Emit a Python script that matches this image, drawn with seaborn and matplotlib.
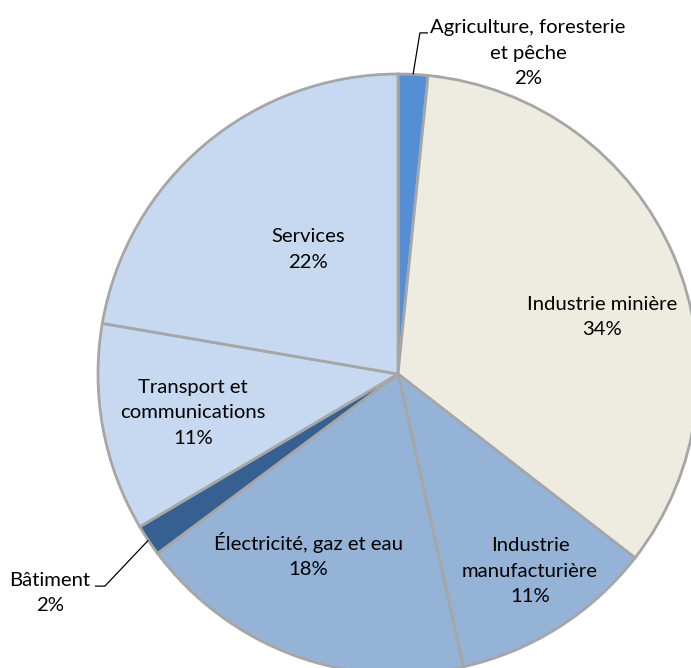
import numpy as np
import matplotlib
matplotlib.use("Agg")
import matplotlib.pyplot as plt
import seaborn as sns

# Sector shares of GDP (percent), clockwise from 12 o'clock
sectors = [
    "Agriculture, foresterie\net pêche",
    "Industrie minière",
    "Industrie\nmanufacturière",
    "Électricité, gaz et eau",
    "Bâtiment",
    "Transport et\ncommunications",
    "Services",
]
shares = [1.6, 33.9, 11.0, 18.3, 1.7, 11.2, 22.3]
colors = ["#558ED5", "#EEECE1", "#95B3D7", "#95B3D7", "#376092", "#C6D9F1", "#C6D9F1"]

sns.set_theme(style="white")
plt.rcParams["font.family"] = ["Lato", "DejaVu Sans"]

W, H, DPI = 691, 668, 100
R_PX = 300.0
CX, CY = 398.0, 374.0  # pie centre in pixels from the top-left corner

fig = plt.figure(figsize=(W / DPI, H / DPI), dpi=DPI)
ax = fig.add_axes([0, 0, 1, 1])

wedges, _ = ax.pie(
    shares,
    colors=colors,
    startangle=90,
    counterclock=False,
    radius=1.0,
    center=(0, 0),
    wedgeprops=dict(edgecolor="#A6A6A6", linewidth=2.0),
    frame=True,
)
ax.set_xlim(-CX / R_PX, (W - CX) / R_PX)
ax.set_ylim(-(H - CY) / R_PX, CY / R_PX)
ax.set_aspect("equal")
ax.axis("off")

fracs = np.array(shares) / np.sum(shares)
ends = np.cumsum(fracs) * 360.0
starts = ends - fracs * 360.0
mids = (starts + ends) / 2.0


def polar(angle_deg, r):
    a = np.deg2rad(angle_deg)
    return r * np.sin(a), r * np.cos(a)


def label_text(name, share):
    return f"{name}\n{share:.0f}%"


text_kw = dict(ha="center", va="center", fontsize=14.6, color="#000000",
               linespacing=1.6, multialignment="center")

# Labels placed inside the slices: (radius, angle shift from slice middle)
inside_layout = {1: (0.706, 7.6), 2: (0.791, -1.4), 3: (0.673, 6.1),
                 5: (0.695, -0.3), 6: (0.512, 4.3)}
for i, (r, shift) in inside_layout.items():
    x, y = polar(mids[i] + shift, r)
    ax.text(x, y, label_text(sectors[i], shares[i]), **text_kw)

# Labels outside the pie with leader lines: (elbow, line end, text centre)
outside_layout = {
    0: ((0.073, 1.137), (0.10, 1.137), (0.433, 1.07)),
    4: ((-0.977, -0.707), (-1.01, -0.707), (-1.16, -0.73)),
}
for i, (elbow, end, txt) in outside_layout.items():
    ex, ey = polar(mids[i], 1.0)
    ax.plot([ex, elbow[0], end[0]], [ey, elbow[1], end[1]],
            color="black", linewidth=0.9, solid_capstyle="butt")
    ax.text(txt[0], txt[1], label_text(sectors[i], shares[i]), **text_kw)

fig.savefig("out.png", dpi=DPI, facecolor="white")
